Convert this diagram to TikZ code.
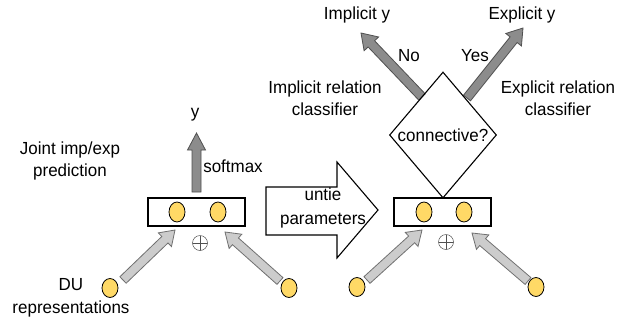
\documentclass[tikz,border=0pt]{standalone}
\usepackage{fontspec}
\setmainfont{Liberation Sans}[FakeStretch=0.97]
\usetikzlibrary{calc,shapes.geometric}
\definecolor{dotc}{HTML}{FFD966}
\definecolor{darkfill}{HTML}{8C8C8C}
\definecolor{darkline}{HTML}{505050}
\definecolor{lightfill}{HTML}{CCCCCC}
\definecolor{lightline}{HTML}{707070}
\newcommand\blockarrow[6]{\filldraw[#1]
 ($(#2)!#4!90:(#3)$) --
 ($(#3)!#6!(#2)!#4!90:(#3)$) --
 ($(#3)!#6!(#2)!#5!90:(#3)$) --
 (#3) --
 ($(#3)!#6!(#2)!#5!-90:(#3)$) --
 ($(#3)!#6!(#2)!#4!-90:(#3)$) --
 ($(#2)!#4!-90:(#3)$) -- cycle;}
\begin{document}
\begin{tikzpicture}[x=1pt,y=-1pt,
  every node/.style={font=\fontsize{17.5}{22.5}\selectfont},
  lbl/.style={inner sep=0pt, align=center},
  dot/.style={ellipse, draw, fill=dotc, minimum width=16pt, minimum height=20pt, inner sep=0pt, line width=0.8pt},
  bdot/.style={dot, minimum height=19pt},
  layer/.style={draw, line width=1.1pt, minimum width=97pt, minimum height=28pt, inner sep=0pt},
  plus/.style={circle, draw=darkline, line width=0.5pt, minimum size=15pt, inner sep=0pt,
    path picture={\draw[darkline, line width=0.5pt] (path picture bounding box.north) -- (path picture bounding box.south) (path picture bounding box.west) -- (path picture bounding box.east);}},
  darkarr/.style={fill=darkfill, draw=darkline, line width=0.8pt, line join=miter},
  lightarr/.style={fill=lightfill, draw=lightline, line width=0.8pt, line join=miter},
  bigarr/.style={fill=white, draw=black, line width=1.1pt, line join=miter}]
\useasboundingbox[fill=white] (0,0) rectangle (640,325);

% ---------- left panel ----------
\node[layer] (boxL) at (196.5,212) {};
\node[dot] (dL1) at (177,212) {};
\node[dot] (dL2) at (218,212) {};
\node[plus] (pL) at (200,243) {};
\node[bdot] (du1) at (110,288) {};
\node[bdot] (du2) at (289,288) {};
\coordinate (sTail) at (196.5,192);
\coordinate (sTip) at (196.5,133);
\coordinate (a1t) at (123,280);
\coordinate (a1h) at (175,230);
\coordinate (a2t) at (280,281);
\coordinate (a2h) at (225,232);
\blockarrow{darkarr}{sTail}{sTip}{4.5pt}{9pt}{17pt}
\blockarrow{lightarr}{a1t}{a1h}{4.5pt}{9.5pt}{14pt}
\blockarrow{lightarr}{a2t}{a2h}{4.5pt}{9.5pt}{14pt}
\node[lbl] (y) at (195,115) {y};
\node[lbl] (soft) at (233,166) {softmax};
\node[lbl] (joint) at (70,161) {Joint imp/exp\\prediction};
\node[lbl] (dulbl) at (71,298) {DU\\representations};

% ---------- big arrow ----------
\filldraw[bigarr] (266,187) -- (337,187) -- (337,162) -- (378,210) -- (337,258) -- (337,235) -- (266,235) -- cycle;
\node[lbl, font=\fontsize{17.5}{23.5}\selectfont] (untie) at (323,208) {untie\\parameters};

% ---------- right panel ----------
\node[layer] (boxR) at (442.5,212) {};
\node[dot] (dR1) at (424,212) {};
\node[dot] (dR2) at (464,212) {};
\node[plus] (pR) at (446,242) {};
\node[bdot] (du3) at (357,287) {};
\node[bdot] (du4) at (536,287) {};
\coordinate (a3t) at (367,280);
\coordinate (a3h) at (422,230);
\coordinate (a4t) at (528,281);
\coordinate (a4h) at (472,233);
\blockarrow{lightarr}{a3t}{a3h}{4.5pt}{9.5pt}{14pt}
\blockarrow{lightarr}{a4t}{a4h}{4.5pt}{9.5pt}{14pt}
\coordinate (noT) at (422,97);
\coordinate (noH) at (361,33);
\coordinate (yesT) at (467,98);
\coordinate (yesH) at (523,28);
\blockarrow{darkarr}{noT}{noH}{4.5pt}{10pt}{15pt}
\blockarrow{darkarr}{yesT}{yesH}{4.5pt}{10pt}{15pt}
\node[diamond, draw, line width=1.1pt, minimum width=107pt, minimum height=126pt, inner sep=0pt] (dia) at (443,135) {\makebox[0pt]{connective?}};
\node[lbl] (impy) at (357,15) {Implicit y};
\node[lbl] (expy) at (522,15) {Explicit y};
\node[lbl] (no) at (409,56) {No};
\node[lbl] (yes) at (475,56) {Yes};
\node[lbl] (impc) at (325,98) {Implicit relation\\classifier};
\node[lbl] (expc) at (558,98) {Explicit relation\\classifier};
\end{tikzpicture}
\end{document}
